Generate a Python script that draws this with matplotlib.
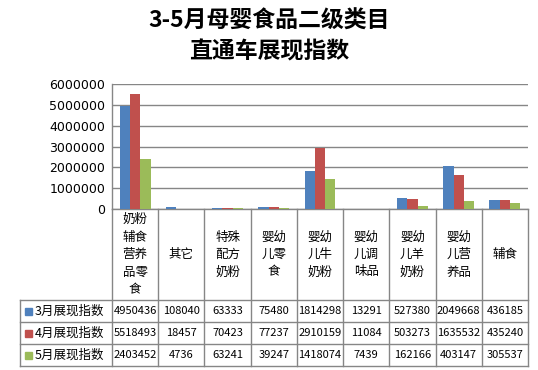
import numpy as np
import matplotlib
matplotlib.use('Agg')
import matplotlib.pyplot as plt
from matplotlib.lines import Line2D
from matplotlib.transforms import blended_transform_factory

plt.rcParams['font.family'] = ['Noto Sans CJK SC', 'DejaVu Sans']

# 数据
categories = ['奶粉\n辅食\n营养\n品零\n食', '其它', '特殊\n配方\n奶粉', '婴幼\n儿零\n食',
              '婴幼\n儿牛\n奶粉', '婴幼\n儿调\n味品', '婴幼\n儿羊\n奶粉', '婴幼\n儿营\n养品', '辅食']
series_names = ['3月展现指数', '4月展现指数', '5月展现指数']
march = [4950436, 108040, 63333, 75480, 1814298, 13291, 527380, 2049668, 436185]
april = [5518493, 18457, 70423, 77237, 2910159, 11084, 503273, 1635532, 435240]
may = [2403452, 4736, 63241, 39247, 1418074, 7439, 162166, 403147, 305537]
colors = ['#4F81BD', '#C0504D', '#9BBB59']
yticks = [0, 1000000, 2000000, 3000000, 4000000, 5000000, 6000000]

W, H = 538, 370
fig = plt.figure(figsize=(W / 100, H / 100), dpi=100)

def fy(py):
    return 1 - py / H

def fx(px):
    return px / W

# 绘图区
left, right, top, bottom = 112, 528, 84, 209
ax = fig.add_axes([fx(left), fy(bottom), (right - left) / W, (bottom - top) / H])

x = np.arange(len(categories))
bw = 0.223
for i, vals in enumerate([march, april, may]):
    ax.bar(x + (i - 1) * bw, vals, width=bw, color=colors[i], zorder=3)

ax.set_xlim(-0.5, len(categories) - 0.5)
ax.set_ylim(0, 6000000)
ax.set_yticks(yticks)
ax.set_yticklabels([str(v) for v in yticks], family='DejaVu Sans', fontsize=9)
ax.set_xticks([])
ax.tick_params(axis='y', length=0, pad=5)
ax.grid(axis='y', color='#868686', linewidth=1, zorder=0)
for s in ['top', 'right']:
    ax.spines[s].set_visible(False)
for s in ['left', 'bottom']:
    ax.spines[s].set_color('#868686')
    ax.spines[s].set_linewidth(1)

# 标题
fig.text(0.5, fy(21), '3-5月母婴食品二级类目', ha='center', va='center',
         fontsize=16.5, fontweight='bold')
fig.text(0.5, fy(52), '直通车展现指数', ha='center', va='center',
         fontsize=16.5, fontweight='bold')

# 数据表
tr = blended_transform_factory(ax.transData, fig.transFigure)
gray = '#868686'
row_lines = [300, 322, 344, 366]
for k in range(len(categories) + 1):
    xb = k - 0.5
    fig.add_artist(Line2D([xb, xb], [fy(bottom), fy(366)], transform=tr,
                          color=gray, linewidth=1))
fig.add_artist(Line2D([fx(20), fx(20)], [fy(300), fy(366)], transform=fig.transFigure,
                      color=gray, linewidth=1))
for ry in row_lines:
    fig.add_artist(Line2D([fx(20), fx(right)], [fy(ry), fy(ry)], transform=fig.transFigure,
                          color=gray, linewidth=1))

# 分类标签（竖排多行）
label_center = (bottom + 300) / 2
for i, cat in enumerate(categories):
    lines = cat.split('\n')
    n = len(lines)
    for j, ln in enumerate(lines):
        py = label_center + (j - (n - 1) / 2) * 17.5
        ax.text(i, fy(py), ln, transform=tr, ha='center', va='center', fontsize=9)

# 数值行
for r, (name, vals) in enumerate(zip(series_names, [march, april, may])):
    cy = (row_lines[r] + row_lines[r + 1]) / 2
    fig.patches.append(plt.Rectangle((fx(25), fy(cy + 3.5)), 7 / W, 7 / H,
                                     transform=fig.transFigure, color=colors[r]))
    fig.text(fx(35), fy(cy), name, ha='left', va='center', fontsize=9)
    for i, v in enumerate(vals):
        ax.text(i, fy(cy), str(v), transform=tr, ha='center', va='center', fontsize=8)

fig.savefig('out.png', dpi=100)
